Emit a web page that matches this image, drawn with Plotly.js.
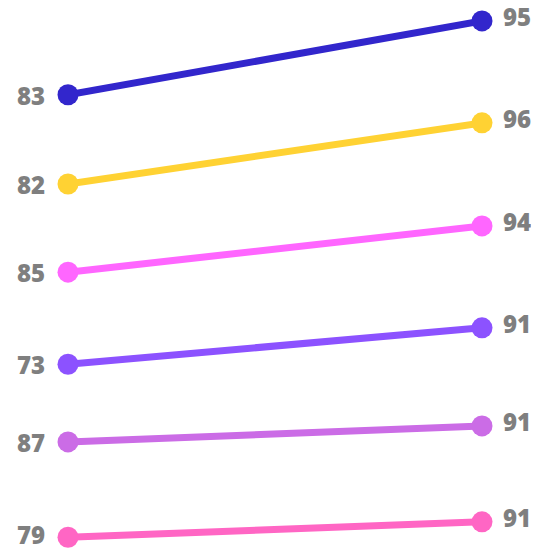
<!DOCTYPE html>
<html>
<head>
<meta charset="utf-8">
<script src="https://cdn.plot.ly/plotly-3.0.1.min.js"></script>
<style>
  html, body { margin: 0; padding: 0; background: #ffffff; }
  #chart { width: 539px; height: 551px; }
</style>
</head>
<body>
<div id="chart"></div>
<script>
// Slope chart: six series, each moving from a start score to an end score.
const startValues = [83, 82, 85, 73, 87, 79];
const endValues   = [95, 96, 94, 91, 91, 91];

// Vertical level of each line's start and end on a 0–100 layout scale
const startLevels = [82.8, 66.6, 50.6, 33.9, 19.8, 2.5];
const endLevels   = [96.2, 77.7, 59.0, 40.5, 22.7, 5.3];

const colors = ['#3226CC', '#FFD233', '#FF66FF', '#8C52FF', '#CB6CE6', '#FF66C4'];
const positions = [0, 1];

const traces = startValues.map((v, i) => ({
  type: 'scatter',
  mode: 'lines+markers',
  x: positions,
  y: [startLevels[i], endLevels[i]],
  line: { color: colors[i], width: 7 },
  marker: { color: colors[i], size: 21 },
  cliponaxis: false,
  hoverinfo: 'skip',
  showlegend: false
}));

const labelFont = { family: '"Open Sans", sans-serif', size: 24, color: '#7F7F7F', weight: 800 };

const annotations = [];
const lastRow = startValues.length - 1;
startValues.forEach((v, i) => {
  annotations.push({
    x: positions[0], y: startLevels[i], xref: 'x', yref: 'y',
    text: String(v), showarrow: false, height: 22,
    xanchor: 'right', yanchor: 'middle', xshift: -21,
    // nudge the bottom label so it stays inside the page
    yshift: i === lastRow ? 3 : 0,
    font: labelFont
  });
  annotations.push({
    x: positions[1], y: endLevels[i], xref: 'x', yref: 'y',
    text: String(endValues[i]), showarrow: false, height: 22,
    xanchor: 'left', yanchor: 'middle', xshift: 19, yshift: 5,
    font: labelFont
  });
});

const layout = {
  width: 539,
  height: 551,
  margin: { l: 68, r: 57, t: 0, b: 0 },
  paper_bgcolor: '#ffffff',
  plot_bgcolor: '#ffffff',
  xaxis: { range: [0, 1], visible: false, fixedrange: true },
  yaxis: { range: [0, 100], visible: false, fixedrange: true },
  annotations: annotations
};

Plotly.newPlot('chart', traces, layout, { displayModeBar: false, staticPlot: true });
</script>
</body>
</html>
